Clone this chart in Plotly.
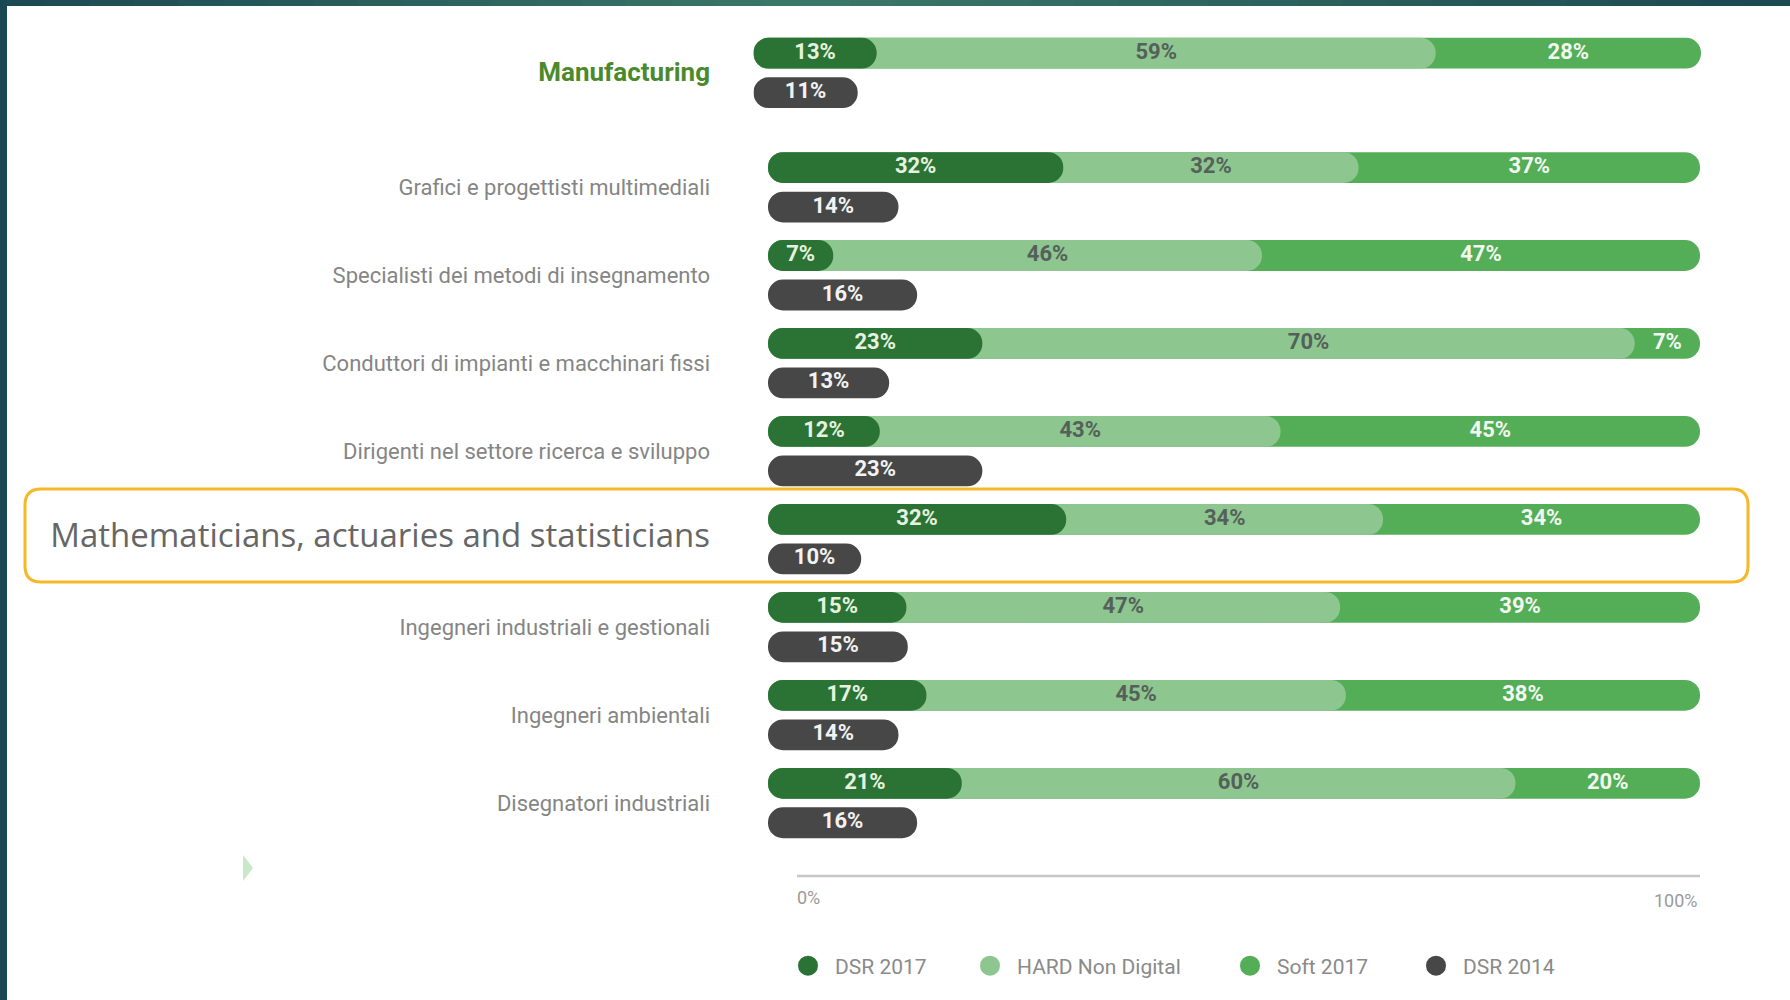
import plotly.graph_objects as go

# ---------------- data ----------------
categories = [
    "Manufacturing",
    "Grafici e progettisti multimediali",
    "Specialisti dei metodi di insegnamento",
    "Conduttori di impianti e macchinari fissi",
    "Dirigenti nel settore ricerca e sviluppo",
    "Mathematicians, actuaries and statisticians",
    "Ingegneri industriali e gestionali",
    "Ingegneri ambientali",
    "Disegnatori industriali",
]
dsr_2017 = [13, 32, 7, 23, 12, 32, 15, 17, 21]
hard_non_digital = [59, 32, 46, 70, 43, 34, 47, 45, 60]
soft_2017 = [28, 37, 47, 7, 45, 34, 39, 38, 20]
dsr_2014 = [11, 14, 16, 13, 23, 10, 15, 14, 16]
series_names = ["DSR 2017", "HARD Non Digital", "Soft 2017", "DSR 2014"]
axis_tick_labels = ["0%", "100%"]

# ---------------- styles / geometry ----------------
W, H = 1790, 1000
C_DSR17 = "#2a7335"
C_HARD = "#8dc68f"
C_SOFT = "#53ae57"
C_DSR14 = "#474747"
T_DSR17 = "#e6f2df"
T_HARD = "#56605a"
T_SOFT = "#f2f8f0"
T_DSR14 = "#f2f2f2"

X0_PX, X1_PX = 768, 1700          # 0 % and 100 % (occupation rows)
XM0_PX, XM1_PX = 753.5, 1701      # 0 % and 100 % (sector row)
Y_TOP_PX, Y_BOT_PX = 20, 876
ROW_PX = 87.96
FIRST_ROW_PX = 187.3
MANUF_GAP = 1.3
OFF = 0.2245
BAR_W = 0.35

n = len(categories)
row_pos = [-MANUF_GAP] + list(range(n - 1))
top_y = [p - OFF for p in row_pos]
bot_y = [p + OFF for p in row_pos]

tot = [a + b + c for a, b, c in zip(dsr_2017, hard_non_digital, soft_2017)]
c1 = [a / t * 100 for a, t in zip(dsr_2017, tot)]
c2 = [(a + b) / t * 100 for a, b, t in zip(dsr_2017, hard_non_digital, tot)]
c3 = [100.0 for _ in tot]

FONT_BAR = "Roboto"
fig = go.Figure()

groups = [([0], "x2"), (list(range(1, n)), "x")]

for idx, xa in groups:
    sel = lambda arr: [arr[i] for i in idx]
    ty, by = sel(top_y), sel(bot_y)

    def bar(xend, y, color):
        fig.add_trace(go.Bar(
            orientation="h", y=y, x=xend, base=[0] * len(xend),
            width=BAR_W, marker=dict(color=color, line=dict(width=0)),
            showlegend=False, hoverinfo="skip", xaxis=xa, yaxis="y",
        ))

    bar(sel(c3), ty, C_SOFT)
    bar(sel(c2), ty, C_HARD)
    bar(sel(c1), ty, C_DSR17)
    bar(sel(dsr_2014), by, C_DSR14)

    def labels(xmid, y, vals, color):
        fig.add_trace(go.Scatter(
            x=xmid, y=y, mode="text", text=[f"{v}%" for v in vals],
            textposition="middle center",
            textfont=dict(family=FONT_BAR, size=22, color=color, weight="bold"),
            showlegend=False, hoverinfo="skip", xaxis=xa, yaxis="y",
        ))

    labels([a / 2 for a in sel(c1)], ty, sel(dsr_2017), T_DSR17)
    labels([(a + b) / 2 for a, b in zip(sel(c1), sel(c2))], ty, sel(hard_non_digital), T_HARD)
    labels([(b + c) / 2 for b, c in zip(sel(c2), sel(c3))], ty, sel(soft_2017), T_SOFT)
    labels([v / 2 for v in sel(dsr_2014)], by, sel(dsr_2014), T_DSR14)

# legends (one per entry so they can be placed freely)
legend_centers_px = [808, 990, 1250, 1436]
leg_cols = [C_DSR17, C_HARD, C_SOFT, C_DSR14]
legend_layout = {}
for k, (name, col, cx) in enumerate(zip(series_names, leg_cols, legend_centers_px)):
    key = "legend" if k == 0 else f"legend{k+1}"
    fig.add_trace(go.Scatter(
        x=[None], y=[None], mode="markers", name=name,
        marker=dict(size=16, color=col, symbol="circle", line=dict(color=col, width=4)),
        legend=key, showlegend=True,
    ))
    legend_layout[key] = dict(
        x=(cx - 27) / W, xanchor="left", y=1 - 966 / H, yanchor="middle",
        bgcolor="rgba(0,0,0,0)", borderwidth=0, itemwidth=44,
        font=dict(family="Roboto", size=21, color="#8a8a8a"),
        itemclick=False, itemdoubleclick=False,
    )

# tick labels for categories
ticktext = []
for c in categories:
    if c == "Manufacturing":
        ticktext.append(f'<b><span style="font-size:26px;color:#4a8a2c">{c}</span></b>')
    elif c.startswith("Mathematicians"):
        ticktext.append(f'<span style="font-size:33px;color:#666666;font-family:Open Sans">{c}</span>')
    else:
        ticktext.append(c)

# ---------------- shapes ----------------
def px(x):
    return x / W

def py(y):
    return 1 - y / H

shapes = []
stops = [(0.0, (27, 72, 82)), (0.45, (58, 120, 104)), (1.0, (27, 72, 82))]
def lerp_col(t):
    for (t0, a), (t1, b) in zip(stops[:-1], stops[1:]):
        if t0 <= t <= t1:
            f = (t - t0) / (t1 - t0)
            return "rgb(%d,%d,%d)" % tuple(round(a[i] + (b[i] - a[i]) * f) for i in range(3))
    return "rgb(27,72,82)"
NSEG = 40
for s in range(NSEG):
    t = (s + 0.5) / NSEG
    shapes.append(dict(type="rect", xref="paper", yref="paper",
                       x0=s / NSEG, x1=(s + 1) / NSEG + 0.001, y0=py(6), y1=1,
                       fillcolor=lerp_col(t), line=dict(width=0), layer="above"))
shapes.append(dict(type="rect", xref="paper", yref="paper", x0=0, x1=px(7), y0=0, y1=1,
                   fillcolor="#1a4852", line=dict(width=0), layer="above"))

bx0, bx1, by0, by1, r = 25, 1748, 489, 582, 16
path = (f"M {px(bx0 + r)},{py(by0)} L {px(bx1 - r)},{py(by0)} "
        f"Q {px(bx1)},{py(by0)} {px(bx1)},{py(by0 + r)} "
        f"L {px(bx1)},{py(by1 - r)} Q {px(bx1)},{py(by1)} {px(bx1 - r)},{py(by1)} "
        f"L {px(bx0 + r)},{py(by1)} Q {px(bx0)},{py(by1)} {px(bx0)},{py(by1 - r)} "
        f"L {px(bx0)},{py(by0 + r)} Q {px(bx0)},{py(by0)} {px(bx0 + r)},{py(by0)} Z")
shapes.append(dict(type="path", xref="paper", yref="paper", path=path,
                   line=dict(color="#f4b829", width=3), fillcolor="rgba(0,0,0,0)"))
tri = f"M {px(243)},{py(855)} L {px(253)},{py(868)} L {px(243)},{py(881)} Z"
shapes.append(dict(type="path", xref="paper", yref="paper", path=tri,
                   fillcolor="#c9e8c9", line=dict(width=0)))
shapes.append(dict(type="line", xref="paper", yref="paper", x0=px(797), x1=px(1700),
                   y0=py(876), y1=py(876), line=dict(color="#c6c6c6", width=2.5)))

annotations = [
    dict(text=axis_tick_labels[0], xref="paper", yref="paper", x=px(795), y=py(897),
         xanchor="left", yanchor="middle", showarrow=False,
         font=dict(family="Roboto", size=18, color="#9a9a9a")),
    dict(text=axis_tick_labels[1], xref="paper", yref="paper", x=px(1700), y=py(900),
         xanchor="right", yanchor="middle", showarrow=False,
         font=dict(family="Roboto", size=18, color="#9a9a9a")),
]

y_range = [(Y_BOT_PX - FIRST_ROW_PX) / ROW_PX, -(FIRST_ROW_PX - Y_TOP_PX) / ROW_PX]

fig.update_layout(
    width=W, height=H,
    margin=dict(l=0, r=0, t=0, b=0),
    paper_bgcolor="white", plot_bgcolor="rgba(0,0,0,0)",
    barmode="overlay", barcornerradius="50%",
    hovermode=False,
    xaxis=dict(domain=[px(X0_PX), px(X1_PX)], range=[0, 100], visible=False, fixedrange=True),
    xaxis2=dict(domain=[px(XM0_PX), px(XM1_PX)], range=[0, 100], visible=False,
                fixedrange=True, anchor="y"),
    yaxis=dict(domain=[py(Y_BOT_PX), py(Y_TOP_PX)], range=y_range,
               tickvals=row_pos, ticktext=ticktext, showgrid=False, zeroline=False,
               showline=False, ticks="", ticklabelstandoff=57, fixedrange=True,
               tickfont=dict(family="Roboto", size=22, color="#858585")),
    shapes=shapes, annotations=annotations,
    **legend_layout,
)

fig.write_html("out.html")
